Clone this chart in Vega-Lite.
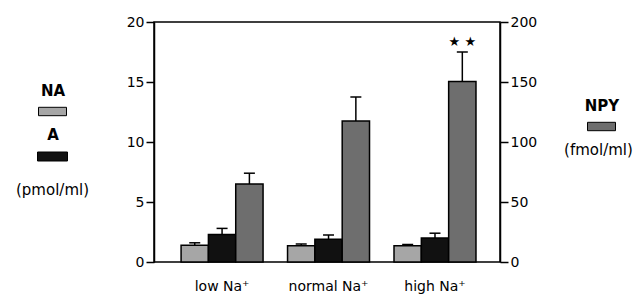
{
  "$schema": "https://vega.github.io/schema/vega-lite/v6.json",
  "width": 346,
  "height": 240,
  "autosize": {"type": "none"},
  "padding": {"left": 154, "top": 22, "right": 143, "bottom": 33},
  "background": "white",
  "config": {
    "font": "DejaVu Sans",
    "view": {"stroke": "black", "strokeWidth": 1.5},
    "axis": {
      "domainColor": "black", "domainWidth": 1.5,
      "tickColor": "black", "tickWidth": 1.5, "tickSize": 8,
      "labelColor": "black", "labelFontSize": 14, "labelPadding": 2,
      "grid": false, "titleColor": "black"
    },
    "legend": {
      "orient": "none",
      "titleFontWeight": "bold", "titleFontSize": 15, "titleColor": "black",
      "titleAnchor": "middle", "titlePadding": -2,
      "symbolType": "M-1,-0.3H1V0.3H-1Z", "symbolSize": 784,
      "symbolStrokeColor": "black", "symbolStrokeWidth": 1,
      "labelOffset": 0, "labelFontSize": 1, "padding": 0
    }
  },
  "datasets": {
    "pmol": [
      {"group": "low Na⁺", "type": "NA", "value": 1.4, "err": 1.6},
      {"group": "normal Na⁺", "type": "NA", "value": 1.35, "err": 1.5},
      {"group": "high Na⁺", "type": "NA", "value": 1.35, "err": 1.45},
      {"group": "low Na⁺", "type": "A", "value": 2.3, "err": 2.8},
      {"group": "normal Na⁺", "type": "A", "value": 1.9, "err": 2.25},
      {"group": "high Na⁺", "type": "A", "value": 2.0, "err": 2.4}
    ],
    "npy": [
      {"group": "low Na⁺", "type": "NPY", "value": 65, "err": 74, "sig": ""},
      {"group": "normal Na⁺", "type": "NPY", "value": 117.5, "err": 137.5, "sig": ""},
      {"group": "high Na⁺", "type": "NPY", "value": 150.5, "err": 175, "sig": "★ ★"}
    ]
  },
  "encoding": {
    "x": {
      "field": "group", "type": "nominal",
      "sort": ["low Na⁺", "normal Na⁺", "high Na⁺"],
      "scale": {"paddingInner": 0.23, "paddingOuter": 0.24, "align": 0.53},
      "axis": {"title": null, "labelAngle": 0, "ticks": false, "domain": false, "labelPadding": 17, "labelFontSize": 14}
    },
    "xOffset": {
      "field": "type", "type": "nominal",
      "scale": {"domain": ["NA", "A", "NPY"], "paddingInner": 0, "paddingOuter": 0}
    }
  },
  "layer": [
    {
      "data": {"name": "pmol"},
      "encoding": {
        "y": {
          "field": "value", "type": "quantitative",
          "scale": {"domain": [0, 20], "nice": false},
          "axis": {
            "orient": "left", "values": [0, 5, 10, 15, 20],
            "title": "(pmol/ml)", "titleAngle": 0, "titleX": -102, "titleY": 167,
            "titleAlign": "center", "titleBaseline": "middle",
            "titleFontSize": 15, "titleFontWeight": "normal"
          }
        }
      },
      "layer": [
        {
          "transform": [{"filter": "datum.type === 'NA'"}],
          "mark": {"type": "bar", "stroke": "black", "strokeWidth": 1.5},
          "encoding": {
            "fill": {
              "field": "type", "type": "nominal",
              "scale": {"domain": ["NA"], "range": ["#a6a6a6"]},
              "legend": {"title": "NA", "legendX": -116, "legendY": 62, "labelExpr": "''"}
            }
          }
        },
        {
          "transform": [{"filter": "datum.type === 'A'"}],
          "mark": {"type": "bar", "stroke": "black", "strokeWidth": 1.5},
          "encoding": {
            "fill": {
              "field": "type", "type": "nominal",
              "scale": {"domain": ["A"], "range": ["#111111"]},
              "legend": {"title": "A", "legendX": -117, "legendY": 106, "labelExpr": "''", "symbolSize": 900}
            }
          }
        },
        {
          "mark": {"type": "rule", "strokeWidth": 1.5, "color": "black"},
          "encoding": {"y2": {"field": "err"}}
        },
        {
          "mark": {"type": "tick", "thickness": 1.5, "size": 11, "color": "black", "opacity": 1},
          "encoding": {"y": {"field": "err", "type": "quantitative"}}
        }
      ],
      "resolve": {"scale": {"fill": "independent"}}
    },
    {
      "data": {"name": "npy"},
      "encoding": {
        "y": {
          "field": "value", "type": "quantitative",
          "scale": {"domain": [0, 200], "nice": false},
          "axis": {
            "orient": "right", "values": [0, 50, 100, 150, 200],
            "title": "(fmol/ml)", "titleAngle": 0, "titleX": 98, "titleY": 127,
            "titleAlign": "center", "titleBaseline": "middle",
            "titleFontSize": 15, "titleFontWeight": "normal"
          }
        }
      },
      "layer": [
        {
          "mark": {"type": "bar", "stroke": "black", "strokeWidth": 1.5},
          "encoding": {
            "fill": {
              "field": "type", "type": "nominal",
              "scale": {"domain": ["NPY"], "range": ["#6e6e6e"]},
              "legend": {"title": "NPY", "legendX": 431, "legendY": 77, "labelExpr": "''"}
            }
          }
        },
        {
          "mark": {"type": "rule", "strokeWidth": 1.5, "color": "black"},
          "encoding": {"y2": {"field": "err"}}
        },
        {
          "mark": {"type": "tick", "thickness": 1.5, "size": 11, "color": "black", "opacity": 1},
          "encoding": {"y": {"field": "err", "type": "quantitative"}}
        },
        {
          "mark": {"type": "text", "fontSize": 13, "dy": -10, "baseline": "middle", "color": "black"},
          "encoding": {
            "y": {"field": "err", "type": "quantitative"},
            "text": {"field": "sig"}
          }
        }
      ]
    }
  ],
  "resolve": {"scale": {"y": "independent", "fill": "independent"}}
}
